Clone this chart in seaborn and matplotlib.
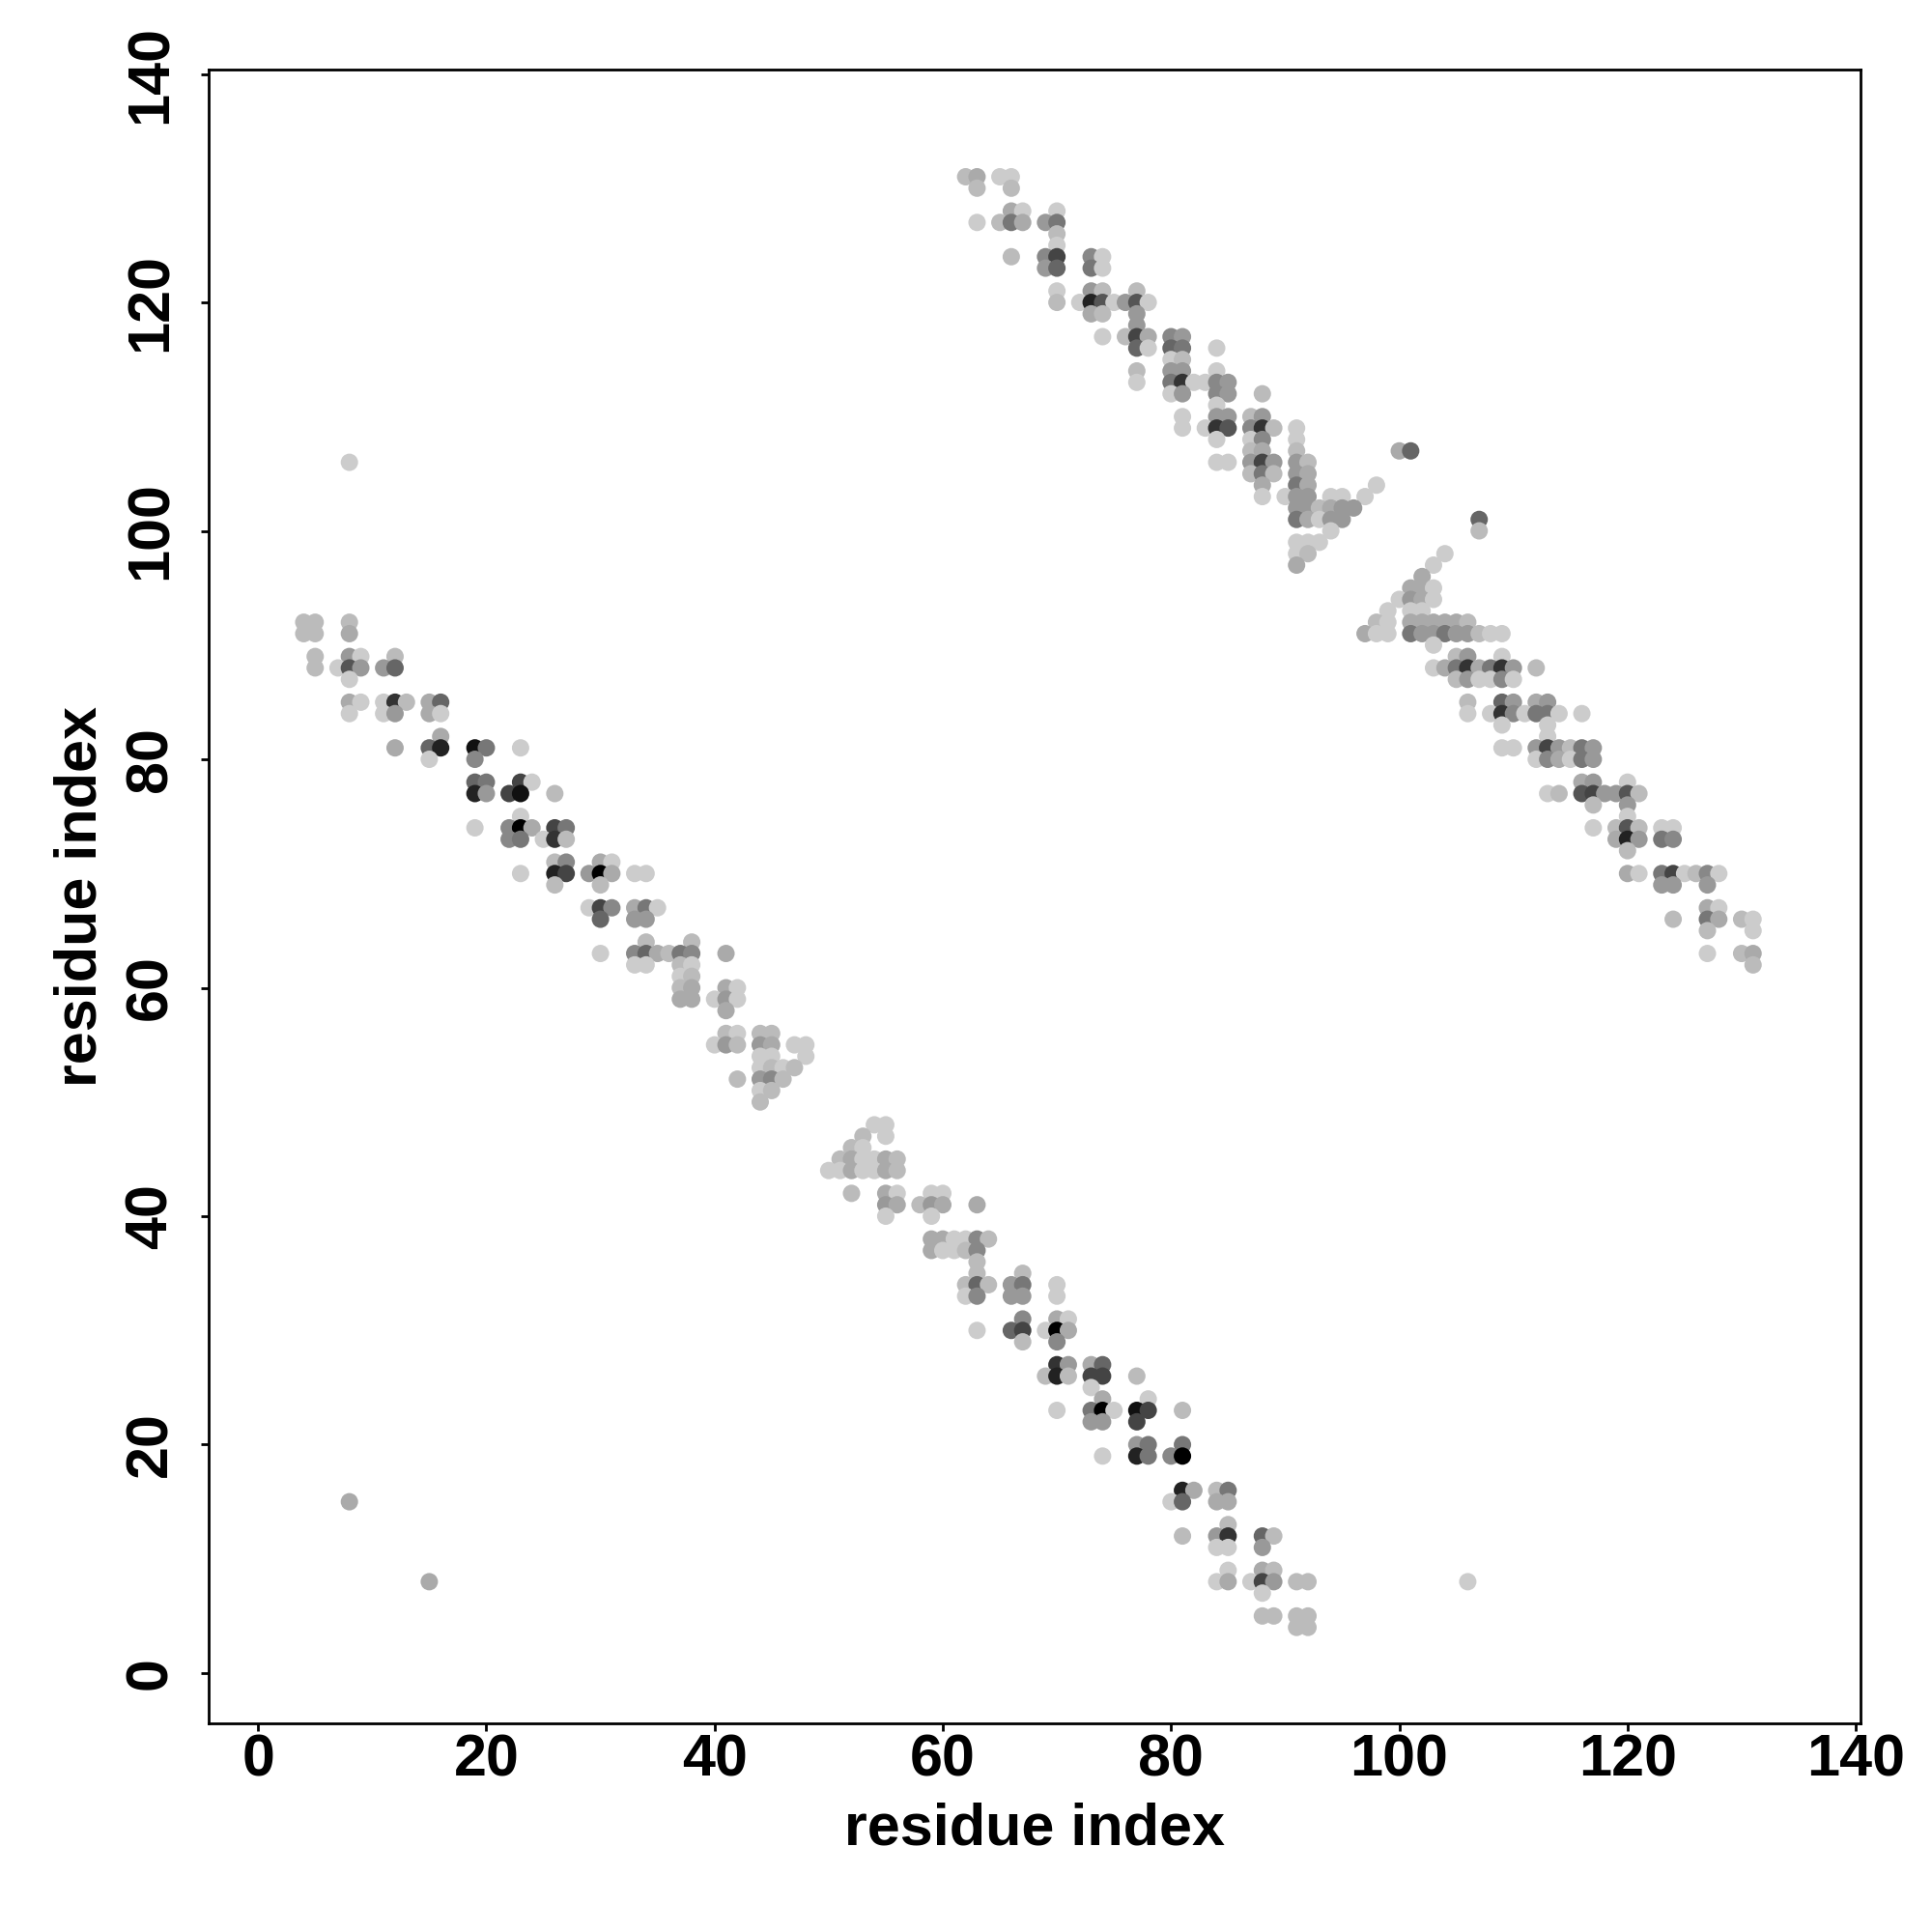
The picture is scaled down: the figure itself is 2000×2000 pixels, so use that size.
import matplotlib
matplotlib.use("Agg")
import matplotlib.pyplot as plt
import pandas as pd
import seaborn as sns

# contact map: residue pairs (i, j) grouped by row j; shade = hex grey digit (0 black .. c light)
lower_j = [106, 92, 91, 89, 88, 87, 85, 84, 82, 81, 80, 78, 77, 75, 74, 73, 71, 70, 69,
           67, 66, 64, 63, 62, 61, 60, 59, 58, 56, 55, 54, 53, 52, 51, 50, 48, 47, 46,
           45, 44, 42, 41, 40, 38, 37, 36, 35, 34, 33, 31, 30, 29, 27, 26, 25, 24, 23,
           22, 20, 19, 16, 15, 13, 12, 11, 9, 8, 7, 5, 4]
lower_i = [
    [8], [4, 5, 8], [4, 5, 8], [5, 8, 9, 12], [5, 7, 8, 9, 11, 12], [8],
    [8, 9, 11, 12, 13, 15, 16], [8, 11, 12, 15, 16], [16], [12, 15, 16, 19, 20, 23],
    [15, 19], [19, 20, 23, 24], [19, 20, 22, 23, 26], [23], [19, 22, 23, 24, 26, 27],
    [22, 23, 25, 26, 27], [26, 27, 30, 31], [23, 26, 27, 29, 30, 31, 33, 34], [26, 30],
    [29, 30, 31, 33, 34, 35], [30, 33, 34], [34, 38], [30, 33, 34, 35, 36, 37, 38, 41],
    [33, 34, 37, 38], [37, 38], [37, 38, 41, 42], [37, 38, 40, 41, 42], [41],
    [41, 42, 44, 45], [40, 41, 42, 44, 45, 47, 48], [44, 45, 48], [44, 45, 46, 47],
    [42, 44, 45, 46], [44, 45], [44], [54, 55], [53, 55], [52, 53],
    [51, 52, 53, 54, 55, 56], [50, 51, 52, 53, 54, 55, 56], [52, 55, 56, 59, 60],
    [55, 56, 58, 59, 60, 63], [55, 59], [59, 60, 61, 62, 63, 64], [59, 60, 61, 62, 63],
    [63], [63, 67], [62, 63, 64, 66, 67, 70], [62, 63, 66, 67, 70], [67, 70, 71],
    [63, 66, 67, 69, 70, 71], [67, 70], [70, 71, 73, 74], [69, 70, 71, 73, 74, 77],
    [73], [74, 78], [70, 73, 74, 75, 77, 78, 81], [73, 74, 77], [77, 78, 81],
    [74, 77, 78, 80, 81], [81, 82, 84, 85], [8, 80, 81, 84, 85], [85],
    [81, 84, 85, 88, 89], [84, 85, 88], [85, 88, 89],
    [15, 84, 85, 87, 88, 89, 91, 92, 106], [88], [88, 89, 91, 92], [91, 92],
]
lower_shade = [
    "c", "bbb", "bba", "b9cb", "bc5996", "c", "acc3ba6", "cc9ac", "a", "a6217c",
    "c8", "674c", "2941b", "c", "c80a47", "87c3b", "b8ac", "c2490acc", "bb",
    "c48a7c", "699", "bb", "c86ab78a", "ccbc", "cb", "baac", "aac9c", "a",
    "bcbb", "c9b9acc", "ccc", "cbcb", "b98b", "cb", "b", "cc", "bc", "bc",
    "baccab", "ccaccab", "baccc", "9ab9aa", "cc", "aacc8b", "accb8", "b", "bb",
    "b6b97c", "c899c", "8ac", "c64c0a", "b8", "39a6", "b2b44b", "c", "ac",
    "c70c14b", "994", "977", "c2780", "2ab7", "ac6aa", "b", "b936b", "cc9",
    "cab", "acac49bbc", "c", "bbbb", "bb",
]

upper_j = [131, 130, 128, 127, 126, 125, 124, 123, 121, 120, 119, 118, 117, 116, 115,
           114, 113, 112, 111, 110, 109, 108, 107, 106, 105, 104, 103, 102, 101, 100,
           99, 98, 97, 96, 95, 94, 93, 92, 91, 90, 89, 88, 87, 85, 84, 83, 82, 81, 80,
           78, 77, 76, 75, 74, 73, 72, 70, 69, 67, 66, 65, 63, 62]
upper_i = [
    [62, 63, 65, 66], [63, 66], [66, 67, 70], [63, 65, 66, 67, 69, 70], [70], [70],
    [66, 69, 70, 73, 74], [69, 70, 73, 74], [70, 73, 74, 77],
    [70, 72, 73, 74, 75, 76, 77, 78], [73, 74, 77], [77], [74, 76, 77, 78, 80, 81],
    [77, 78, 80, 81, 84], [80, 81], [77, 80, 81, 84], [77, 80, 81, 82, 83, 84, 85],
    [80, 81, 84, 85, 88], [84], [81, 84, 85, 87, 88], [81, 83, 84, 85, 87, 88, 89, 91],
    [84, 87, 88, 91], [87, 88, 91, 100, 101], [84, 85, 87, 88, 89, 91, 92],
    [87, 88, 89, 91, 92], [88, 91, 92, 98], [88, 90, 91, 92, 94, 95, 97],
    [91, 92, 93, 94, 95, 96], [91, 92, 93, 94, 95, 107], [94, 107], [91, 92, 93],
    [91, 92, 104], [91, 103], [102], [101, 102, 103], [100, 101, 102, 103],
    [99, 101, 102], [98, 99, 101, 102, 103, 104, 105, 106],
    [97, 98, 99, 101, 102, 103, 104, 105, 106, 107, 108, 109], [103], [105, 106, 109],
    [103, 104, 105, 106, 107, 108, 109, 110, 112], [105, 106, 107, 108, 109, 110],
    [106, 109, 110, 112, 113], [106, 108, 109, 110, 111, 112, 113, 114, 116],
    [109, 113], [113], [109, 110, 112, 113, 114, 115, 116, 117],
    [112, 113, 114, 115, 116, 117], [116, 117, 120],
    [113, 114, 116, 117, 118, 119, 120, 121], [117, 120], [120],
    [117, 119, 120, 121, 123, 124], [119, 120, 121, 123, 124], [120],
    [120, 121, 123, 124, 125, 126, 127, 128], [123, 124, 127], [127, 128],
    [124, 127, 128, 130, 131], [127, 131], [127, 130, 131], [131],
]
upper_shade = [
    "bacc", "bb", "acc", "cb7a97", "b", "c", "b848c", "967c", "c9bb", "bc25c95c",
    "ab9", "9", "cb4a89", "6c67c", "cb", "b99c", "c73cc89", "c989b", "c", "c99b9",
    "cc3583bc", "cc8c", "baba6", "cc9499b", "b7b9a", "a7ac", "cc99ccc", "99ba99",
    "7ac996", "cb", "ccc", "cbc", "ac", "a", "aac", "c9ac", "ccc", "bcaaaaab",
    "acc799799bcc", "c", "b9c", "ca73a739b", "b9cc8c", "b69a9", "cc38c77cc", "cc",
    "c", "cc949b79", "c8ac79", "a9c", "cb54995b", "b9", "c", "cb5bcc", "a2978", "b",
    "ac74cb8c", "999", "ac", "b7abc", "bc", "cba", "b",
]

XTICKS = [0, 20, 40, 60, 80, 100, 120, 140]
YTICKS = [0, 20, 40, 60, 80, 100, 120, 140]


def flatten(rows_j, rows_i, rows_shade):
    recs = []
    for j, iis, sh in zip(rows_j, rows_i, rows_shade):
        for i, d in zip(iis, sh):
            recs.append({"i": i, "j": j, "grey": "#" + d * 6})
    return recs


df = pd.DataFrame(flatten(lower_j, lower_i, lower_shade) + flatten(upper_j, upper_i, upper_shade))

sns.set_style("white")
plt.rcParams["font.family"] = ["Liberation Sans", "DejaVu Sans"]
plt.rcParams["font.weight"] = "bold"
plt.rcParams["text.color"] = "black"
plt.rcParams["axes.labelcolor"] = "black"

fig = plt.figure(figsize=(10, 10), dpi=200)
ax = fig.add_axes([0.1079, 0.108, 0.855, 0.8562])

palette = {g: g for g in df["grey"].unique()}
sns.scatterplot(data=df, x="i", y="j", hue="grey", palette=palette, legend=False,
                s=42, linewidth=0, alpha=1, ax=ax)

ax.set_xlim(-4.35, 140.4)
ax.set_ylim(-4.4, 140.42)
ax.set_xticks(XTICKS)
ax.set_yticks(YTICKS)
for sp in ax.spines.values():
    sp.set_visible(True)
    sp.set_color("black")
    sp.set_linewidth(1.0)

ax.tick_params(axis="both", which="major", direction="out", length=2.9, width=1.0,
               color="black", labelsize=22, labelcolor="black")
ax.tick_params(axis="x", pad=1, bottom=True)
ax.tick_params(axis="y", pad=8, left=True, labelrotation=90)
for lab in ax.get_yticklabels():
    lab.set_verticalalignment("center")
    lab.set_fontweight("bold")
for lab in ax.get_xticklabels():
    lab.set_fontweight("bold")

ax.set_xlabel("residue index", fontsize=22, fontweight="bold", va="baseline", color="black")
ax.set_ylabel("residue index", fontsize=22, fontweight="bold", va="baseline", color="black")
ax.xaxis.set_label_coords(0.5, -0.073)
ax.yaxis.set_label_coords(-0.0679, 0.5)

fig.savefig("out.png", dpi=200, facecolor="white")
